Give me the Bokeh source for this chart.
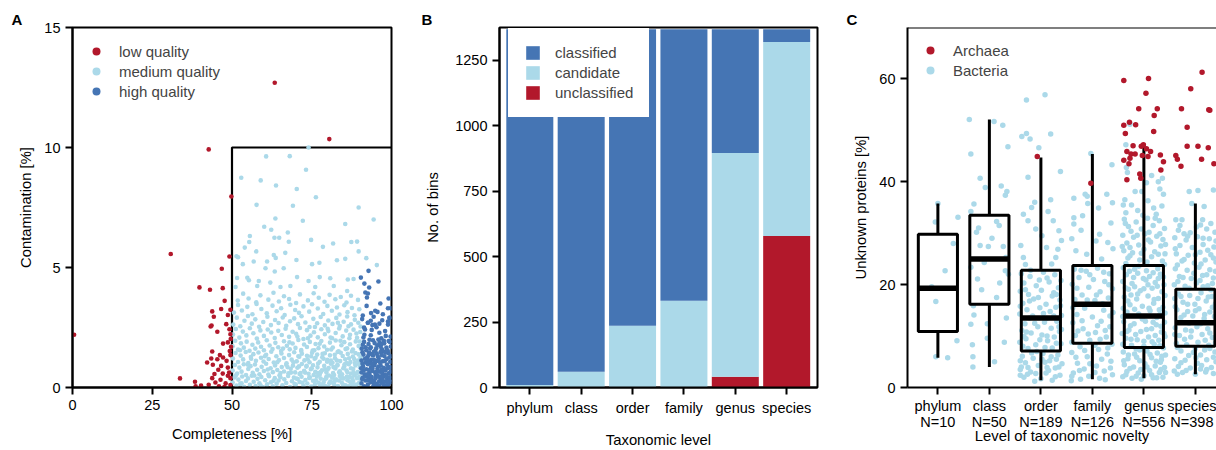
from bokeh.plotting import figure
from bokeh.layouts import row
from bokeh.models import (Range1d, FixedTicker, Legend, LegendItem, Title,
                          ColumnDataSource, Span)
from bokeh.embed import file_html
from bokeh.resources import INLINE

RED = "#b2182b"
LIGHT = "#abd9e9"
BLUE = "#4575b4"
FONT = "Liberation Sans"

# ---------------- Panel A data: completeness / contamination ----------------
quality_labels = ["low quality", "medium quality", "high quality"]
completeness_min = 50
contamination_max = 10
a_xticks = [0, 25, 50, 75, 100]
a_yticks = [0, 5, 10, 15]

low_pts = [
    (63.4, 12.7), (80.5, 10.35), (42.7, 9.92), (49.8, 7.96), (30.8, 5.56), (49.2, 5.46),
    (46.8, 4.95), (39.8, 4.17), (43.1, 4.07), (47.1, 4.14), (0.5, 2.2), (33.7, 0.38),
    (38.4, 0.24), (38.6, 0.05), (47.7, 3.61), (46.6, 3.27), (43.8, 3.17), (49.5, 3.24),
    (44.3, 2.95), (48.7, 3.02), (43.3, 2.54), (43.6, 2.58), (48.2, 2.64), (49.2, 2.43),
    (45.4, 2.32), (49.5, 2.22), (49.6, 2.02), (48.7, 1.88), (47.2, 1.83), (49.7, 1.70),
    (43.8, 1.50), (46.2, 1.35), (43.5, 1.21), (42.2, 1.04), (45.4, 1.18), (47.2, 1.25),
    (48.3, 1.11), (49.5, 1.35), (46.6, 0.90), (48.7, 0.83), (45.7, 0.74), (44.5, 0.56),
    (47.1, 0.58), (48.7, 0.49), (43.8, 0.39), (46.4, 0.32), (49.5, 0.39), (44.8, 0.21),
    (48.0, 0.17), (42.7, 0.11), (40.3, 0.08), (49.5, 0.10), (45.9, 0.05), (47.6, 0.02),
    (49.1, 0.62), (44.0, 0.95), (49.3, 1.52),
]

med_pts = [
    (74.0, 10.0), (60.7, 9.63), (68.1, 9.64), (73.2, 9.07), (52.9, 8.74), (59.0, 8.63),
    (63.8, 8.42), (70.3, 8.27), (76.3, 7.93), (57.7, 7.61), (69.1, 7.57), (89.7, 7.50),
    (63.6, 7.04), (94.4, 7.0), (72.2, 6.95), (85.5, 6.81), (60.1, 6.70), (62.3, 6.57),
    (67.5, 6.46), (55.6, 6.31), (63.3, 6.24), (64.8, 6.24), (74.8, 6.15), (67.8, 6.07),
    (87.4, 6.06), (89.2, 6.08), (55.4, 6.06), (81.7, 6.0), (54.0, 5.83), (78.5, 5.86),
    (66.7, 5.61), (89.7, 5.67), (57.6, 5.67), (51.4, 5.47), (63.1, 5.52), (63.7, 5.40),
    (92.1, 5.39), (85.5, 5.36), (51.9, 5.43), (56.8, 5.25), (61.0, 5.25), (70.2, 5.31),
    (75.1, 5.14), (77.4, 5.2), (82.9, 5.3), (95.4, 5.1), (53.4, 5.14), (60.5, 4.97),
    (66.2, 4.97), (63.4, 4.83), (70.4, 4.6), (51.6, 4.56), (54.8, 4.57), (55.3, 4.47),
    (58.4, 4.44), (77.5, 4.6), (80.8, 4.55), (88.1, 4.52), (86.3, 4.5), (74.0, 4.44),
    (62.0, 4.37), (57.9, 4.23), (51.1, 4.19), (65.2, 4.19), (68.3, 4.23), (76.1, 4.19),
    (81.9, 4.23), (86.1, 4.02),
    (51.8, 3.62), (53.5, 3.91), (55.2, 3.71), (57.6, 3.55), (58.9, 3.84), (61.4, 3.66),
    (63.0, 3.95), (64.7, 3.58), (66.3, 3.80), (67.9, 3.69), (70.1, 3.52), (71.3, 3.88),
    (73.8, 3.63), (75.6, 3.93), (77.2, 3.74), (79.0, 3.57), (80.6, 3.86), (82.4, 3.68),
    (84.1, 3.77), (85.9, 3.54), (87.3, 3.82), (89.5, 3.65),
    (50.6, 3.12), (51.9, 3.44), (53.1, 3.21), (54.8, 3.36), (56.4, 3.05), (57.7, 3.48),
    (59.2, 3.27), (60.9, 3.09), (62.7, 3.41), (64.0, 3.18), (65.4, 3.30), (66.5, 3.02),
    (68.3, 3.45), (69.8, 3.23), (71.0, 3.11), (72.4, 3.38), (74.2, 3.16), (75.1, 3.47),
    (76.9, 3.29), (78.6, 3.06), (79.9, 3.40), (81.3, 3.20), (82.9, 3.33), (83.7, 3.04),
    (85.2, 3.43), (86.2, 3.14), (87.6, 3.31), (88.4, 3.01), (89.9, 3.26),
    (50.4, 2.62), (51.5, 2.91), (52.6, 2.55), (53.9, 2.78), (55.0, 2.98), (56.2, 2.66),
    (57.3, 2.84), (58.5, 2.53), (59.8, 2.73), (61.1, 2.95), (62.2, 2.60), (63.5, 2.81),
    (64.6, 2.69), (65.9, 2.92), (67.0, 2.57), (68.2, 2.76), (69.5, 2.88), (70.7, 2.64),
    (71.8, 2.97), (73.0, 2.71), (74.3, 2.52), (75.5, 2.86), (76.7, 2.68), (77.8, 2.94),
    (79.1, 2.59), (80.2, 2.79), (81.5, 2.65), (82.7, 2.90), (83.8, 2.56), (85.0, 2.74),
    (86.1, 2.96), (87.3, 2.63), (88.5, 2.82), (89.6, 2.70), (90.3, 2.54),
    (50.3, 2.21), (51.2, 2.44), (52.3, 2.08), (53.4, 2.33), (54.5, 2.17), (55.6, 2.47),
    (56.7, 2.26), (57.8, 2.04), (58.9, 2.38), (60.0, 2.15), (61.2, 2.42), (62.3, 2.29),
    (63.4, 2.06), (64.5, 2.36), (65.6, 2.19), (66.8, 2.45), (67.9, 2.11), (69.0, 2.32),
    (70.1, 2.24), (71.3, 2.48), (72.4, 2.02), (73.5, 2.39), (74.6, 2.16), (75.7, 2.30),
    (76.9, 2.09), (78.0, 2.43), (79.1, 2.22), (80.2, 2.35), (81.4, 2.05), (82.5, 2.27),
    (83.6, 2.46), (84.7, 2.13), (85.8, 2.37), (87.0, 2.20), (88.1, 2.41), (89.2, 2.07),
    (90.2, 2.31),
    (50.2, 1.72), (51.0, 1.95), (51.9, 1.58), (52.8, 1.84), (53.7, 1.66), (54.6, 1.91),
    (55.5, 1.53), (56.4, 1.78), (57.3, 1.62), (58.2, 1.88), (59.1, 1.70), (60.0, 1.55),
    (60.9, 1.97), (61.8, 1.75), (62.7, 1.60), (63.6, 1.86), (64.5, 1.68), (65.4, 1.52),
    (66.3, 1.93), (67.2, 1.74), (68.1, 1.59), (69.0, 1.83), (69.9, 1.65), (70.8, 1.98),
    (71.7, 1.56), (72.6, 1.79), (73.5, 1.69), (74.4, 1.90), (75.3, 1.54), (76.2, 1.81),
    (77.1, 1.64), (78.0, 1.94), (78.9, 1.71), (79.8, 1.57), (80.7, 1.87), (81.6, 1.67),
    (82.5, 1.96), (83.4, 1.51), (84.3, 1.76), (85.2, 1.89), (86.1, 1.63), (87.0, 1.80),
    (87.9, 1.58), (88.8, 1.92), (89.7, 1.73), (90.4, 1.61),
    (50.3, 1.21), (51.1, 1.44), (51.9, 1.06), (52.7, 1.33), (53.5, 1.17), (54.3, 1.48),
    (55.1, 1.02), (55.9, 1.27), (56.7, 1.39), (57.5, 1.11), (58.3, 1.46), (59.1, 1.24),
    (59.9, 1.08), (60.7, 1.36), (61.5, 1.19), (62.3, 1.49), (63.1, 1.04), (63.9, 1.30),
    (64.7, 1.14), (65.5, 1.42), (66.3, 1.23), (67.1, 1.01), (67.9, 1.35), (68.7, 1.16),
    (69.5, 1.47), (70.3, 1.09), (71.1, 1.28), (71.9, 1.41), (72.7, 1.13), (73.5, 1.32),
    (74.3, 1.05), (75.1, 1.45), (75.9, 1.20), (76.7, 1.37), (77.5, 1.07), (78.3, 1.26),
    (79.1, 1.43), (79.9, 1.15), (80.7, 1.34), (81.5, 1.03), (82.3, 1.22), (83.1, 1.48),
    (83.9, 1.10), (84.7, 1.31), (85.5, 1.18), (86.3, 1.40), (87.1, 1.06), (87.9, 1.29),
    (88.7, 1.44), (89.5, 1.12), (90.3, 1.25), (81.0, 1.12), (85.9, 1.02), (88.3, 1.19),
    (76.2, 1.24), (70.8, 1.30),
    (50.2, 0.71), (50.9, 0.94), (51.6, 0.58), (52.3, 0.83), (53.0, 0.66), (53.7, 0.97),
    (54.4, 0.52), (55.1, 0.77), (55.8, 0.89), (56.5, 0.61), (57.2, 0.96), (57.9, 0.74),
    (58.6, 0.55), (59.3, 0.86), (60.0, 0.69), (60.7, 0.99), (61.4, 0.54), (62.1, 0.80),
    (62.8, 0.64), (63.5, 0.92), (64.2, 0.73), (64.9, 0.51), (65.6, 0.85), (66.3, 0.67),
    (67.0, 0.95), (67.7, 0.59), (68.4, 0.78), (69.1, 0.91), (69.8, 0.63), (70.5, 0.82),
    (71.2, 0.56), (71.9, 0.98), (72.6, 0.70), (73.3, 0.87), (74.0, 0.57), (74.7, 0.76),
    (75.4, 0.93), (76.1, 0.65), (76.8, 0.84), (77.5, 0.53), (78.2, 0.72), (78.9, 0.90),
    (79.6, 0.62), (80.3, 0.81), (81.0, 0.99), (81.7, 0.60), (82.4, 0.79), (83.1, 0.94),
    (83.8, 0.68), (84.5, 0.55), (85.2, 0.88), (85.9, 0.71), (86.6, 0.97), (87.3, 0.58),
    (88.0, 0.77), (88.7, 0.92), (89.4, 0.64), (90.1, 0.83), (82.0, 0.52), (86.2, 0.63),
    (88.4, 0.51), (79.2, 0.75), (84.9, 0.80), (89.8, 0.98),
    (50.2, 0.21), (50.8, 0.42), (51.4, 0.08), (52.0, 0.33), (52.6, 0.15), (53.2, 0.46),
    (53.8, 0.03), (54.4, 0.27), (55.0, 0.38), (55.6, 0.11), (56.2, 0.49), (56.8, 0.24),
    (57.4, 0.06), (58.0, 0.36), (58.6, 0.18), (59.2, 0.44), (59.8, 0.01), (60.4, 0.30),
    (61.0, 0.13), (61.6, 0.47), (62.2, 0.22), (62.8, 0.05), (63.4, 0.39), (64.0, 0.16),
    (64.6, 0.29), (65.2, 0.43), (65.8, 0.09), (66.4, 0.34), (67.0, 0.19), (67.6, 0.48),
    (68.2, 0.02), (68.8, 0.26), (69.4, 0.41), (70.0, 0.12), (70.6, 0.35), (71.2, 0.23),
    (71.8, 0.45), (72.4, 0.07), (73.0, 0.31), (73.6, 0.17), (74.2, 0.40), (74.8, 0.04),
    (75.4, 0.28), (76.0, 0.14), (76.6, 0.46), (77.2, 0.20), (77.8, 0.37), (78.4, 0.10),
    (79.0, 0.32), (79.6, 0.45), (80.2, 0.03), (80.8, 0.25), (81.4, 0.41), (82.0, 0.14),
    (82.6, 0.34), (83.2, 0.06), (83.8, 0.48), (84.4, 0.21), (85.0, 0.38), (85.6, 0.09),
    (86.2, 0.30), (86.8, 0.44), (87.4, 0.16), (88.0, 0.27), (88.6, 0.02), (89.2, 0.39),
    (89.8, 0.19), (90.3, 0.33), (80.5, 0.18), (83.5, 0.29), (86.5, 0.05), (88.9, 0.12),
    (84.7, 0.02), (87.7, 0.40), (81.7, 0.48), (78.7, 0.22),
    (68.5, 0.62), (69.3, 1.05), (70.2, 0.37), (71.0, 0.88), (71.7, 1.52), (72.1, 0.20),
    (72.9, 0.62), (73.7, 1.18), (74.4, 0.43), (75.0, 0.80), (75.8, 1.55), (76.3, 0.30),
    (77.0, 1.00), (77.8, 0.64), (78.4, 1.40), (79.2, 0.06), (79.8, 1.07), (80.4, 0.50),
    (81.1, 1.58), (81.8, 0.85), (82.3, 0.28), (82.9, 1.12), (83.6, 0.63), (84.1, 1.45),
    (84.8, 0.12), (85.3, 0.97), (86.0, 0.45), (86.7, 1.22), (87.3, 0.80), (87.9, 0.10),
    (88.5, 1.02), (89.1, 0.58), (89.7, 1.38), (90.2, 0.15), (80.0, 0.75), (85.6, 1.60),
    (83.0, 0.92), (87.6, 1.50), (78.7, 1.20), (76.9, 0.60), (74.8, 1.30), (82.2, 1.36),
    (86.9, 0.25), (89.9, 0.45), (88.1, 0.62), (84.3, 0.40), (81.2, 0.22), (79.5, 0.38),
    (77.6, 0.08), (75.6, 0.52), (73.4, 0.90), (71.5, 0.60), (69.6, 0.15), (67.4, 0.85),
    (65.2, 0.60), (63.0, 0.28), (61.2, 0.75), (59.0, 0.08), (57.0, 0.50), (55.0, 0.95),
    (53.0, 0.18), (51.2, 0.50), (52.5, 1.55), (56.0, 1.20), (60.3, 1.30), (64.2, 1.05),
    (66.0, 1.62), (68.0, 1.88), (70.5, 2.12), (73.8, 2.05), (77.5, 1.82), (80.9, 2.08),
    (84.0, 1.95), (86.8, 2.05), (89.0, 2.25), (90.0, 1.92), (86.5, 2.55), (83.2, 2.70),
    (80.0, 2.45), (76.0, 2.52),
]

high_pts = [
    (92.8, 4.86), (90.4, 4.58), (95.9, 4.42), (91.5, 4.33), (93.0, 4.17), (91.8, 3.96),
    (92.6, 3.92), (92.3, 3.75), (96.5, 3.5), (92.2, 3.4), (98.9, 3.3), (94.9, 3.2),
    (93.6, 3.1), (91.0, 3.0), (97.3, 3.05), (95.6, 3.15), (92.6, 2.7), (93.5, 2.78),
    (94.8, 2.62), (96.2, 2.66), (98.9, 2.75), (91.4, 2.5), (99.1, 3.71), (99.8, 3.3),
    (99.5, 2.9),
    (90.8, 2.85), (91.7, 2.42), (92.6, 2.70), (93.5, 2.18), (94.4, 2.95), (95.3, 2.51),
    (96.2, 2.28), (97.1, 2.80), (98.0, 2.35), (98.9, 2.62), (99.7, 2.12), (91.2, 2.08),
    (94.0, 2.60), (96.8, 2.05), (99.3, 2.90),
    (90.7, 1.62), (91.4, 1.90), (92.1, 1.55), (92.8, 1.81), (93.5, 1.68), (94.2, 1.97),
    (94.9, 1.52), (95.6, 1.76), (96.3, 1.88), (97.0, 1.59), (97.7, 1.84), (98.4, 1.66),
    (99.1, 1.94), (99.8, 1.71), (91.0, 1.78), (93.1, 1.99), (95.2, 1.63), (97.4, 1.50),
    (98.8, 1.53), (96.6, 1.70),
    (90.6, 1.12), (91.2, 1.37), (91.8, 1.04), (92.4, 1.26), (93.0, 1.45), (93.6, 1.15),
    (94.2, 1.33), (94.8, 1.02), (95.4, 1.41), (96.0, 1.21), (96.6, 1.48), (97.2, 1.09),
    (97.8, 1.30), (98.4, 1.18), (99.0, 1.44), (99.6, 1.07), (90.9, 1.47), (92.1, 1.20),
    (93.3, 1.01), (94.5, 1.49), (95.7, 1.11), (96.9, 1.35), (98.1, 1.46), (99.3, 1.25),
    (93.9, 1.39),
    (90.6, 0.63), (91.1, 0.88), (91.6, 0.55), (92.1, 0.76), (92.6, 0.97), (93.1, 0.60),
    (93.6, 0.84), (94.1, 0.69), (94.6, 0.93), (95.1, 0.52), (95.6, 0.78), (96.1, 0.66),
    (96.6, 0.91), (97.1, 0.57), (97.6, 0.82), (98.1, 0.71), (98.6, 0.96), (99.1, 0.59),
    (99.6, 0.85), (90.9, 0.99), (91.9, 0.50), (92.9, 0.73), (93.9, 0.98), (94.9, 0.61),
    (95.9, 0.87), (96.9, 0.74), (97.9, 0.53), (98.9, 0.80), (99.8, 0.67),
    (90.6, 0.18), (91.0, 0.41), (91.4, 0.05), (91.8, 0.29), (92.2, 0.47), (92.6, 0.12),
    (93.0, 0.35), (93.4, 0.22), (93.8, 0.44), (94.2, 0.02), (94.6, 0.27), (95.0, 0.39),
    (95.4, 0.14), (95.8, 0.48), (96.2, 0.08), (96.6, 0.32), (97.0, 0.20), (97.4, 0.45),
    (97.8, 0.04), (98.2, 0.25), (98.6, 0.37), (99.0, 0.11), (99.4, 0.43), (99.8, 0.23),
    (92.4, 0.30), (94.4, 0.16), (96.4, 0.42), (98.4, 0.07), (93.2, 0.49), (97.2, 0.31),
    (90.8, 0.35), (91.3, 0.72), (91.7, 1.20), (92.0, 0.02), (92.5, 0.55), (92.9, 1.10),
    (93.3, 1.62), (93.7, 0.30), (94.0, 0.80), (94.5, 1.15), (95.0, 0.05), (95.3, 0.65),
    (95.7, 1.30), (96.1, 0.25), (96.4, 1.05), (96.8, 1.80), (97.2, 0.70), (97.5, 0.12),
    (97.9, 1.10), (98.3, 0.50), (98.6, 1.55), (99.0, 0.85), (99.4, 0.30), (99.7, 1.30),
    (91.5, 2.20), (93.8, 2.40), (95.9, 2.00), (98.2, 2.15), (99.5, 1.90), (92.8, 1.35),
    (94.7, 1.85), (96.9, 0.45), (98.7, 0.20), (90.5, 0.80), (91.9, 1.68), (97.6, 1.95),
]

# ---------------- Panel B data: stacked bars ----------------
levels = ["phylum", "class", "order", "family", "genus", "species"]
status_labels = ["classified", "candidate", "unclassified"]
unclassified = [0, 0, 0, 0, 41, 579]
candidate = [10, 60, 236, 331, 855, 741]
classified = [1358, 1308, 1132, 1037, 472, 48]
b_yticks = [0, 250, 500, 750, 1000, 1250]

# ---------------- Panel C data: unknown proteins ----------------
n_labels = ["N=10", "N=50", "N=189", "N=126", "N=556", "N=398"]
c_yticks = [0, 20, 40, 60]
box_low = [5.8, 4.0, 1.4, 1.6, 1.8, 2.6]
box_q1 = [10.9, 16.2, 7.1, 8.6, 7.8, 8.0]
box_med = [19.3, 25.0, 13.5, 16.2, 13.9, 12.6]
box_q3 = [29.8, 33.5, 22.8, 23.7, 23.7, 19.1]
box_high = [35.8, 52.1, 44.7, 45.4, 47.2, 35.8]
domain_labels = ["Archaea", "Bacteria"]

# (jitter offset, value) per taxonomic level
bact_phylum = [(0.00, 35.8), (-0.05, 32.2), (0.39, 33.1), (0.14, 22.7), (-0.04, 16.7),
               (0.37, 9.1), (-0.04, 6.0), (0.19, 5.8), (-0.12, 19.6), (0.30, 28.0)]
bact_class = [
    (-0.39, 52.1), (0.09, 51.7), (0.26, 51.0), (-0.36, 45.4), (0.36, 46.8), (-0.18, 40.7),
    (-0.08, 38.9), (0.23, 39.2), (0.34, 38.1), (0.31, 37.4), (-0.30, 35.7), (-0.36, 34.2),
    (-0.21, 31.0), (0.14, 32.3), (0.19, 31.5), (-0.18, 27.6), (-0.02, 27.4), (0.27, 27.4),
    (0.32, 25.3), (-0.36, 23.4), (-0.10, 24.3), (0.31, 22.7), (-0.23, 21.1), (0.14, 17.5),
    (0.37, 22.0), (-0.31, 15.9), (-0.30, 14.1), (-0.36, 12.3), (-0.04, 9.6), (-0.33, 8.3),
    (0.29, 8.8), (-0.32, 6.0), (0.10, 5.0), (-0.32, 4.0), (-0.04, 12.4), (0.05, 29.0),
    (-0.25, 30.2), (0.20, 20.3), (-0.15, 19.0), (0.33, 13.5),
]
bact_order = [
    (-0.28, 55.9), (0.08, 56.9), (-0.37, 48.8), (-0.28, 49.4), (-0.21, 48.3), (0.19, 49.3),
    (-0.04, 46.6), (0.38, 42.0), (-0.25, 40.9), (-0.12, 36.0), (0.19, 36.5), (-0.18, 35.0),
    (0.14, 34.2), (-0.34, 33.7), (-0.25, 32.4), (0.24, 32.4), (0.35, 30.5), (-0.39, 27.6),
    (0.33, 26.9), (0.11, 27.2), (0.29, 25.3), (-0.34, 25.3), (0.02, 29.5), (-0.10, 30.8),
    (0.40, 28.6), (-0.30, 23.9), (0.21, 24.0),
    (-0.38, 22.1), (-0.21, 21.6), (0.05, 22.4), (0.27, 21.9), (0.39, 20.8), (-0.33, 20.3),
    (-0.09, 19.8), (0.16, 20.5), (0.34, 19.4), (-0.40, 18.7), (-0.24, 18.1), (0.01, 18.9),
    (0.22, 17.8), (-0.14, 17.2), (0.37, 17.0), (-0.35, 16.4), (0.10, 16.2), (0.29, 15.6),
    (-0.27, 15.1), (-0.02, 15.5), (0.18, 14.8), (-0.41, 14.3), (0.40, 14.0), (-0.16, 13.9),
    (0.07, 12.7), (0.31, 12.9), (-0.31, 12.4), (-0.06, 11.8), (0.20, 11.5), (-0.37, 11.1),
    (0.36, 10.9), (-0.19, 10.6), (0.02, 10.2), (0.26, 9.8), (-0.29, 9.5), (0.13, 9.1),
    (-0.41, 8.8), (0.39, 8.5), (-0.10, 8.3), (-0.25, 7.6), (0.22, 7.7), (0.04, 6.6),
    (0.33, 6.3), (-0.36, 6.1), (-0.15, 5.7), (0.17, 5.2), (-0.30, 4.8), (0.41, 4.6),
    (-0.05, 4.3), (0.28, 3.8), (-0.40, 3.5), (-0.20, 3.0), (0.10, 2.8), (0.37, 2.4),
    (-0.33, 2.0), (0.00, 1.7), (0.22, 1.4), (-0.12, 1.2), (-0.26, 2.6), (0.15, 3.3),
    (-0.38, 4.0), (0.30, 5.5), (-0.08, 7.0), (0.11, 13.4), (-0.22, 16.8), (0.25, 18.4),
    (-0.03, 20.9), (0.35, 11.8), (-0.33, 9.9), (0.08, 4.9),
    (-0.20, 22.8), (0.12, 21.3), (-0.30, 19.0), (0.30, 18.1), (-0.05, 17.5), (0.38, 15.9),
    (-0.40, 15.8), (0.05, 14.4), (-0.22, 13.5), (0.25, 13.9), (-0.12, 12.5), (0.40, 11.3),
    (-0.28, 10.8), (0.12, 10.0), (-0.02, 9.3), (0.30, 8.6), (-0.35, 8.0), (0.08, 7.8),
    (-0.18, 6.7), (0.20, 6.0), (-0.40, 5.2), (0.02, 5.5), (0.35, 4.0), (-0.25, 3.9),
    (0.12, 3.9), (-0.10, 2.7), (0.28, 2.1), (-0.40, 2.4),
]
bact_family = [
    (-0.03, 45.5), (0.38, 43.3), (-0.14, 37.6), (-0.10, 37.2), (-0.36, 36.8), (0.28, 37.6),
    (-0.09, 35.8), (0.12, 34.9), (0.39, 35.9), (-0.36, 33.0), (-0.36, 31.8), (-0.19, 33.4),
    (0.36, 32.0), (0.14, 29.8), (0.07, 28.5), (0.30, 28.2), (-0.32, 26.6), (-0.11, 25.9),
    (0.18, 25.0), (-0.40, 28.9), (0.40, 27.0), (-0.22, 30.6),
    (-0.35, 23.0), (-0.12, 22.6), (0.10, 23.2), (0.33, 22.1), (-0.26, 21.4), (0.02, 21.0),
    (0.24, 20.6), (-0.39, 20.1), (-0.07, 19.5), (0.39, 19.2), (0.15, 18.6), (-0.20, 18.0),
    (-0.34, 17.1), (0.31, 17.4), (0.05, 16.9), (-0.15, 15.4), (0.22, 15.0), (0.40, 14.6),
    (-0.30, 14.2), (0.00, 13.7), (-0.38, 12.6), (0.17, 12.9), (0.34, 11.8), (-0.18, 11.4),
    (0.06, 10.7), (-0.33, 10.1), (0.27, 9.8), (-0.05, 9.2), (0.38, 8.4), (-0.24, 7.9),
    (0.12, 7.4), (-0.40, 6.8), (0.29, 6.5), (-0.10, 6.0), (0.36, 5.1), (-0.29, 4.7),
    (0.08, 4.2), (-0.16, 3.6), (0.23, 3.2), (-0.37, 2.8), (0.39, 2.5), (-0.07, 2.2),
    (-0.23, 1.6), (0.14, 1.8), (-0.41, 1.3),
    (-0.22, 22.8), (0.22, 22.4), (-0.05, 21.9), (0.32, 20.0), (-0.30, 19.3), (0.08, 18.0),
    (-0.10, 17.0), (0.20, 16.3), (-0.38, 15.5), (0.34, 13.9), (-0.20, 13.0), (0.10, 12.0),
    (-0.28, 11.0), (0.25, 11.1), (-0.08, 10.4), (0.15, 9.4), (-0.40, 8.8), (0.05, 8.2),
    (-0.15, 7.2), (0.30, 7.7), (-0.32, 5.9), (0.18, 5.5), (-0.05, 4.6), (0.35, 3.8),
    (-0.25, 3.3), (0.05, 2.9), (-0.40, 2.2), (0.25, 1.5),
]
bact_genus = [
    (-0.27, 51.2), (-0.35, 47.2), (-0.34, 42.8), (-0.32, 41.8), (0.05, 39.8), (0.15, 41.2),
    (0.28, 40.0), (0.36, 40.7), (-0.17, 38.1), (-0.04, 38.1), (0.31, 38.6), (0.38, 37.6),
    (-0.37, 36.5), (-0.24, 35.5), (-0.40, 35.5), (0.08, 36.3), (0.19, 34.9), (0.24, 33.7),
    (-0.12, 34.4), (0.35, 35.3),
    (-0.38, 32.7), (-0.15, 32.2), (0.07, 32.9), (0.30, 32.4),
    (-0.30, 31.3), (-0.05, 30.8), (0.18, 31.5), (0.40, 30.9),
    (-0.41, 29.6), (-0.20, 29.2), (0.02, 29.9), (0.25, 29.4), (0.37, 28.8),
    (-0.33, 28.1), (-0.10, 27.7), (0.13, 28.3), (0.33, 27.5),
    (-0.39, 26.6), (-0.22, 26.2), (0.00, 26.9), (0.21, 26.4), (0.41, 26.0),
    (-0.31, 25.2), (-0.08, 24.8), (0.15, 25.4), (0.36, 24.6),
    (-0.40, 23.3), (-0.18, 23.0), (0.05, 22.7), (0.27, 23.1),
    (-0.34, 21.9), (-0.12, 22.2), (0.11, 21.6), (0.32, 22.0), (-0.01, 21.2),
    (-0.41, 20.6), (-0.23, 20.2), (0.04, 20.9), (0.22, 20.4), (0.39, 20.0),
    (-0.30, 19.1), (-0.07, 18.8), (0.16, 19.3), (0.35, 18.6), (-0.18, 19.6),
    (-0.38, 17.6), (-0.14, 17.2), (0.08, 17.8), (0.28, 17.3), (0.41, 17.9),
    (-0.27, 16.1), (-0.03, 15.8), (0.19, 16.4), (0.37, 15.6), (-0.40, 15.4),
    (-0.33, 14.7), (-0.10, 14.3), (0.12, 14.9), (0.31, 14.2),
    (-0.39, 12.8), (-0.19, 12.4), (0.03, 12.9), (0.24, 12.2), (0.40, 12.7),
    (-0.29, 11.2), (-0.06, 10.9), (0.15, 11.4), (0.34, 10.8), (-0.42, 10.5),
    (-0.35, 9.6), (-0.13, 9.3), (0.09, 9.8), (0.29, 9.2), (0.41, 9.9),
    (-0.24, 8.2), (0.00, 8.0), (0.20, 8.4), (0.38, 7.7),
    (-0.40, 6.9), (-0.18, 6.5), (0.06, 7.1), (0.26, 6.7), (0.42, 6.3),
    (-0.31, 5.6), (-0.08, 5.2), (0.15, 5.8), (0.34, 5.4),
    (-0.38, 4.4), (-0.20, 4.0), (0.02, 4.6), (0.22, 4.2), (0.40, 3.9),
    (-0.33, 3.1), (-0.11, 2.8), (0.11, 3.3), (0.30, 2.9),
    (-0.41, 2.1), (-0.23, 1.8), (0.00, 2.3), (0.18, 1.9), (0.37, 2.0),
    (-0.27, 27.2), (0.10, 30.2), (-0.35, 34.0), (0.28, 21.2), (-0.25, 18.0), (0.25, 13.6),
    (-0.15, 7.5), (0.32, 4.9), (-0.05, 1.6),
    (-0.36, 31.9), (0.22, 32.9), (-0.02, 33.5), (-0.25, 30.4), (0.31, 29.9), (-0.13, 29.6),
    (0.09, 28.7), (0.42, 27.8), (-0.42, 27.4), (-0.05, 26.1), (0.28, 25.9), (-0.27, 25.6),
    (0.06, 24.4), (-0.35, 24.1), (0.40, 23.9), (-0.10, 23.6), (0.18, 22.3), (-0.28, 22.6),
    (0.38, 21.5), (-0.20, 21.4), (0.08, 20.0), (-0.36, 19.4), (0.26, 19.7), (0.00, 19.2),
    (-0.12, 18.2), (0.20, 17.1), (-0.31, 16.8), (0.10, 15.4), (-0.18, 15.2), (0.30, 15.1),
    (0.41, 14.5), (-0.41, 13.8), (-0.03, 13.3), (0.18, 12.7), (-0.26, 12.0), (0.33, 11.9),
    (0.05, 11.3), (-0.16, 10.3), (0.22, 10.1), (-0.33, 10.9), (0.39, 10.5), (0.00, 9.0),
    (-0.25, 9.4), (0.16, 8.9), (-0.41, 8.4), (0.31, 8.1), (-0.08, 7.3), (0.12, 6.4),
    (-0.30, 6.3), (0.35, 6.1), (-0.14, 5.9), (0.24, 5.1), (-0.39, 5.2), (0.06, 4.0),
    (-0.27, 3.7), (0.33, 3.5), (-0.06, 3.5), (0.15, 2.5), (-0.35, 2.5), (0.25, 1.9),
    (-0.15, 2.2), (0.42, 2.9),
]
bact_species = [
    (-0.12, 38.1), (0.05, 38.3), (0.35, 38.4), (-0.07, 35.8), (0.17, 35.2), (-0.38, 32.6),
    (-0.26, 32.6), (0.14, 32.6),
    (-0.33, 30.6), (-0.10, 30.1), (0.22, 30.8), (0.38, 30.2),
    (-0.40, 29.1), (-0.18, 28.7), (0.04, 29.3), (0.27, 28.9),
    (-0.30, 27.6), (-0.06, 27.2), (0.15, 27.8), (0.36, 27.3),
    (-0.37, 26.0), (-0.14, 25.7), (0.09, 26.3), (0.30, 25.8),
    (-0.26, 24.6), (-0.02, 24.2), (0.19, 24.8), (0.40, 24.4),
    (-0.39, 23.1), (-0.16, 22.8), (0.07, 23.4), (0.28, 22.9),
    (-0.31, 21.6), (-0.08, 21.2), (0.14, 21.8), (0.35, 21.3),
    (-0.41, 20.0), (-0.20, 19.7), (0.02, 20.3), (0.24, 19.8),
    (-0.33, 18.2), (-0.11, 17.9), (0.11, 18.4), (0.32, 17.7), (-0.40, 17.3),
    (-0.24, 16.6), (-0.01, 16.2), (0.21, 16.8), (0.39, 16.3),
    (-0.36, 15.1), (-0.15, 14.8), (0.07, 15.3), (0.28, 14.7),
    (-0.28, 13.6), (-0.05, 13.9), (0.17, 13.4), (0.37, 13.8),
    (-0.39, 11.6), (-0.19, 11.2), (0.03, 11.8), (0.24, 11.4), (0.41, 11.0),
    (-0.31, 10.1), (-0.09, 9.8), (0.13, 10.3), (0.33, 9.7),
    (-0.37, 8.6), (-0.17, 8.3), (0.05, 8.8), (0.26, 8.2),
    (-0.28, 7.1), (-0.04, 6.8), (0.18, 7.3), (0.38, 6.9),
    (-0.40, 5.6), (-0.20, 5.3), (0.01, 5.8), (0.22, 5.4), (0.35, 5.9),
    (-0.33, 4.1), (-0.10, 3.8), (0.12, 4.3), (0.31, 3.9),
    (-0.25, 2.9), (0.00, 2.6), (0.20, 3.0), (-0.41, 3.2),
    (0.10, 31.6), (-0.22, 29.9), (0.30, 19.0), (-0.12, 12.5),
    (-0.30, 31.5), (0.02, 31.2), (0.30, 31.9), (-0.15, 29.4), (0.15, 29.0), (0.40, 28.5),
    (-0.39, 27.0), (0.24, 26.7), (0.00, 25.8), (-0.22, 24.9), (0.35, 25.2), (0.11, 24.0),
    (-0.35, 23.8), (0.39, 22.6), (-0.03, 22.2), (0.22, 21.9), (-0.24, 21.4), (0.09, 20.8),
    (-0.34, 20.6), (0.33, 20.2), (-0.12, 19.3), (0.15, 19.6), (-0.28, 17.7), (0.05, 17.3),
    (0.25, 17.6), (-0.15, 16.2), (0.33, 15.6), (-0.39, 15.7), (0.00, 14.9), (0.18, 14.2),
    (-0.22, 14.1), (0.41, 12.9), (-0.33, 12.7), (0.10, 12.4), (-0.08, 11.0), (0.28, 10.6),
    (-0.40, 10.3), (0.19, 9.2), (-0.21, 9.4), (0.39, 8.7), (0.00, 7.6), (-0.35, 7.8),
    (0.28, 7.6), (-0.13, 6.2), (0.10, 6.3), (0.40, 5.0), (-0.28, 4.8), (0.04, 4.7),
    (0.22, 3.5), (-0.18, 3.3), (0.35, 2.7), (-0.35, 2.6), (0.10, 3.6),
]
arch_order = [(-0.07, 44.9)]
arch_family = [(-0.03, 39.7)]
arch_genus = [
    (-0.39, 59.7), (0.09, 60.1), (0.04, 57.2), (-0.10, 54.2), (0.26, 54.2), (0.20, 52.9),
    (-0.39, 51.0), (-0.28, 51.6), (-0.16, 51.1), (-0.36, 49.4), (0.19, 49.8), (-0.21, 47.0),
    (-0.01, 47.2), (0.05, 46.4), (0.13, 45.9), (-0.33, 45.9), (-0.25, 45.4), (-0.17, 45.4),
    (-0.03, 45.1), (0.08, 44.9), (0.32, 45.2), (-0.39, 44.2), (-0.27, 44.6), (-0.29, 43.5),
    (0.38, 43.9), (0.33, 42.3), (-0.08, 41.5), (-0.06, 40.7), (-0.33, 40.4), (-0.05, 46.9),
]
arch_species = [
    (0.13, 61.3), (-0.09, 58.1), (-0.27, 54.2), (0.26, 54.0), (0.28, 53.9), (-0.16, 50.6),
    (-0.16, 46.9), (0.05, 46.9), (0.25, 46.6), (0.12, 44.4), (0.36, 43.5), (-0.38, 45.1),
    (-0.35, 44.4), (-0.28, 43.0),
]

# ---------------- helpers ----------------
def style(p, x_std, y_std, tick_lh=1.0, tick_std=5):
    p.grid.visible = False
    p.background_fill_color = "white"
    p.border_fill_color = "white"
    p.outline_line_color = "black"
    p.outline_line_width = 2
    for ax in p.axis:
        ax.axis_line_width = 2
        ax.axis_line_color = "black"
        ax.major_tick_line_width = 2
        ax.major_tick_line_color = "black"
        ax.major_tick_out = 7
        ax.major_tick_in = 0
        ax.minor_tick_line_color = None
        ax.major_label_text_font = FONT
        ax.major_label_text_font_size = "14.5px"
        ax.major_label_text_color = "black"
        ax.axis_label_text_font = FONT
        ax.axis_label_text_font_size = "14.8px"
        ax.axis_label_text_font_style = "normal"
        ax.axis_label_text_color = "black"
        ax.axis_label_text_line_height = 1.0
    p.xaxis.major_label_standoff = tick_std
    p.xaxis.major_label_text_line_height = tick_lh
    p.yaxis.major_label_standoff = 5
    p.xaxis.axis_label_standoff = x_std
    p.yaxis.axis_label_standoff = y_std


def letter(p, text, dx):
    t = Title(text=text, align="left", offset=dx, standoff=0,
              text_font=FONT, text_font_size="15px", text_font_style="bold",
              text_color="black", text_line_height=1.0)
    p.add_layout(t, "above")


def unzip(pts):
    return [a for a, _ in pts], [b for _, b in pts]


# ---------------- Panel A ----------------
pa = figure(width=410, height=450, x_range=Range1d(0, 100), y_range=Range1d(0, 15),
            output_backend="svg", toolbar_location=None,
            min_border_left=72, min_border_right=19, min_border_top=27, min_border_bottom=63)
pa.xaxis.axis_label = "Completeness [%]"
pa.yaxis.axis_label = "Contamination [%]"
style(pa, 13, 7)
pa.xaxis.ticker = FixedTicker(ticks=a_xticks)
pa.yaxis.ticker = FixedTicker(ticks=a_yticks)
pa.line([completeness_min, completeness_min, 100], [0, contamination_max, contamination_max],
        line_color="black", line_width=2.2)
mx, my = unzip(med_pts)
hx, hy = unzip(high_pts)
lx, ly = unzip(low_pts)
r_med = pa.scatter(mx, my, size=4.6, fill_color=LIGHT, line_color=None)
r_high = pa.scatter(hx, hy, size=4.6, fill_color=BLUE, line_color=None)
r_low = pa.scatter(lx, ly, size=4.6, fill_color=RED, line_color=None)
leg_a = Legend(items=[LegendItem(label=quality_labels[0], renderers=[r_low]),
                      LegendItem(label=quality_labels[1], renderers=[r_med]),
                      LegendItem(label=quality_labels[2], renderers=[r_high])],
               location="top_left", margin=3, padding=10, glyph_width=20, glyph_height=20,
               label_height=20, spacing=0, label_standoff=13,
               background_fill_alpha=0, border_line_color="white", border_line_alpha=1,
               label_text_font=FONT, label_text_font_size="15px")
pa.add_layout(leg_a)
letter(pa, "A", -61)

# ---------------- Panel B ----------------
xpos = list(range(1, len(levels) + 1))
src_b = ColumnDataSource(dict(x=xpos, unclassified=unclassified, candidate=candidate,
                              classified=classified))
pb = figure(width=420, height=450, x_range=Range1d(0.41, 6.6), y_range=Range1d(0, 1375),
            output_backend="svg", toolbar_location=None,
            min_border_left=89, min_border_right=13, min_border_top=27, min_border_bottom=63)
pb.xaxis.axis_label = "Taxonomic level"
pb.yaxis.axis_label = "No. of bins"
style(pb, 13, 11)
rs = pb.vbar_stack(["unclassified", "candidate", "classified"], x="x", width=0.915,
                   color=[RED, LIGHT, BLUE], line_color=None, source=src_b)
pb.xaxis.ticker = FixedTicker(ticks=xpos)
pb.xaxis.major_label_overrides = {x: lvl for x, lvl in zip(xpos, levels)}
pb.yaxis.ticker = FixedTicker(ticks=b_yticks)
leg_b = Legend(items=[LegendItem(label=status_labels[0], renderers=[rs[2]]),
                      LegendItem(label=status_labels[1], renderers=[rs[1]]),
                      LegendItem(label=status_labels[2], renderers=[rs[0]])],
               location=(9, 270), margin=0, padding=15, glyph_width=17, glyph_height=17,
               label_height=17, spacing=3, label_standoff=14,
               background_fill_color="white", background_fill_alpha=1,
               border_line_color="white", border_line_alpha=1,
               label_text_font=FONT, label_text_font_size="15px")
pb.add_layout(leg_b)
letter(pb, "B", -78)

# ---------------- Panel C ----------------
pc = figure(width=386, height=450, x_range=Range1d(0.41, 6.41), y_range=Range1d(0, 70),
            output_backend="svg", toolbar_location=None,
            min_border_left=77, min_border_right=0, min_border_top=27, min_border_bottom=63)
pc.xaxis.axis_label = "Level of taxonomic novelty"
pc.yaxis.axis_label = "Unknown proteins [%]"
style(pc, -5, 7, tick_lh=1.0, tick_std=3)
pc.outline_line_color = None
pc.add_layout(Span(location=70, dimension="width", line_color="black", line_width=2))
bact_all = [bact_phylum, bact_class, bact_order, bact_family, bact_genus, bact_species]
arch_all = [[], [], arch_order, arch_family, arch_genus, arch_species]
bx, by, ax_, ay = [], [], [], []
for x0, pts in zip(xpos, bact_all):
    for d, v in pts:
        bx.append(x0 + d)
        by.append(v)
for x0, pts in zip(xpos, arch_all):
    for d, v in pts:
        ax_.append(x0 + d)
        ay.append(v)
r_bact = pc.scatter(bx, by, size=5.5, fill_color=LIGHT, line_color=None)
pc.segment(xpos, box_low, xpos, box_q1, line_color="black", line_width=3)
pc.segment(xpos, box_q3, xpos, box_high, line_color="black", line_width=3)
half = 0.38
pc.quad(left=[x - half for x in xpos], right=[x + half for x in xpos], bottom=box_q1,
        top=box_q3, fill_color=None, line_color="black", line_width=3)
pc.segment([x - half for x in xpos], box_med, [x + half for x in xpos], box_med,
           line_color="black", line_width=5.5)
r_arch = pc.scatter(ax_, ay, size=5.5, fill_color=RED, line_color=None)
pc.xaxis.ticker = FixedTicker(ticks=xpos)
pc.xaxis.major_label_overrides = {x: f"{lvl}\n{n}" for x, lvl, n in zip(xpos, levels, n_labels)}
pc.yaxis.ticker = FixedTicker(ticks=c_yticks)
leg_c = Legend(items=[LegendItem(label=domain_labels[0], renderers=[r_arch]),
                      LegendItem(label=domain_labels[1], renderers=[r_bact])],
               location="top_left", margin=2, padding=10, glyph_width=20, glyph_height=20,
               label_height=20, spacing=0, label_standoff=13,
               background_fill_alpha=0, border_line_color="white", border_line_alpha=1,
               label_text_font=FONT, label_text_font_size="15px")
pc.add_layout(leg_c)
letter(pc, "C", -61)

layout = row(pa, pb, pc, spacing=0)
open("out.html", "w").write(file_html(layout, INLINE))
